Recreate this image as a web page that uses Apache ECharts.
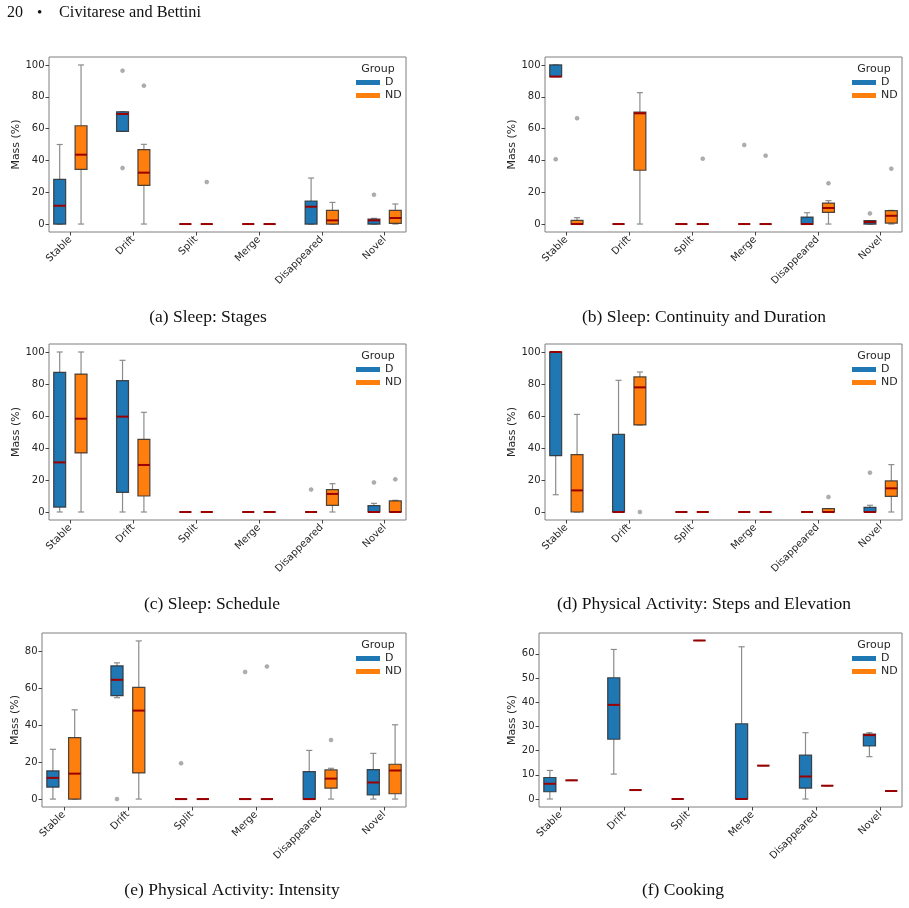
<!DOCTYPE html>
<html>
<head>
<meta charset="utf-8">
<script src="https://cdn.jsdelivr.net/npm/echarts@6/dist/echarts.min.js"></script>
<style>
html,body{margin:0;padding:0;background:#fff;}
#chart{width:909px;height:908px;}
</style>
</head>
<body>
<div id="chart"></div>
<script>
// ---------------- data ----------------
const categories = ['Stable', 'Drift', 'Split', 'Merge', 'Disappeared', 'Novel'];
const groups = ['D', 'ND'];

// each box: [lower whisker, Q1, median, Q3, upper whisker]
const stagesD = [[0,0,11.5,28.1,50],[58.3,58.3,69.2,70.6,70.6],[0,0,0,0,0],[0,0,0,0,0],[0,0,10.9,14.5,28.9],[0,0,2.3,3.1,3.6]];
const stagesND = [[0,34.4,43.6,61.8,100],[0,24.3,32.3,46.8,50.1],[0,0,0,0,0],[0,0,0,0,0],[0,0,2.3,8.6,13.6],[0,0.4,3.8,8.6,12.6]];
const stagesDOut = [[1,96.4],[1,35.2],[5,18.4]];
const stagesNDOut = [[1,87],[2,26.4]];

const continuityD = [[92.7,92.7,92.7,100,100],[0,0,0,0,0],[0,0,0,0,0],[0,0,0,0,0],[0,0,0,4.4,7.1],[0,0,1.3,2.1,2.1]];
const continuityND = [[0,0,0,2.3,4.0],[0,33.8,69.6,70.4,82.6],[0,0,0,0,0],[0,0,0,0,0],[0,7.3,10.1,13.2,14.7],[0,0.6,5.2,8.4,8.6]];
const continuityDOut = [[0,40.7],[3,49.7],[5,6.7]];
const continuityNDOut = [[0,66.5],[2,41.1],[3,43],[4,25.6],[5,34.8]];

const scheduleD = [[0,3.1,31,87.3,100],[0,12.3,59.6,82.1,94.8],[0,0,0,0,0],[0,0,0,0,0],[0,0,0,0,0],[0,0,0,4,5.4]];
const scheduleND = [[0,36.9,58.3,86.2,100],[0,10,29.4,45.4,62.3],[0,0,0,0,0],[0,0,0,0,0],[0,4.2,11.3,14,17.7],[0,0,0,6.9,7.3]];
const scheduleDOut = [[4,14],[5,18.5]];
const scheduleNDOut = [[5,20.4]];

const stepsD = [[10.8,35.2,100,100,100],[0,0,0,48.5,82.3],[0,0,0,0,0],[0,0,0,0,0],[0,0,0,0,0],[0,0,0,2.9,4.2]];
const stepsND = [[0,0,13.5,35.8,61],[54.4,54.4,77.9,84.4,87.5],[0,0,0,0,0],[0,0,0,0,0],[0,0,0,2.1,2.1],[0,9.8,14.8,19.4,29.6]];
const stepsDOut = [[5,24.6]];
const stepsNDOut = [[1,0],[4,9.4]];

const intensityD = [[0,6.5,11.5,15.3,27],[55,56.1,64.7,72.3,73.9],[0,0,0,0,0],[0,0,0,0,0],[0,0,0,14.9,26.4],[0,2.2,9,16,24.8]];
const intensityND = [[0,0,13.8,33.3,48.4],[0,14.2,48,60.6,85.8],[0,0,0,0,0],[0,0,0,0,0],[0,5.9,11.1,15.8,16.7],[0,2.9,15.5,18.9,40.3]];
const intensityDOut = [[1,0],[2,19.4],[3,69]];
const intensityNDOut = [[3,71.9],[4,32]];

const cookingD = [[0,3,6.3,8.9,11.8],[10.3,24.7,38.9,50.1,61.8],[0,0,0,0,0],[0,0,0,31.1,62.9],[0,4.5,9.3,18.1,27.4],[17.5,21.9,26.4,26.8,27.4]];
const cookingND = [[7.7,7.7,7.7,7.7,7.7],[3.7,3.7,3.7,3.7,3.7],[65.5,65.5,65.5,65.5,65.5],[13.8,13.8,13.8,13.8,13.8],[5.5,5.5,5.5,5.5,5.5],[3.3,3.3,3.3,3.3,3.3]];
const cookingDOut = [];
const cookingNDOut = [];

const yTicks100 = [0, 20, 40, 60, 80, 100];
const yTicksIntensity = [0, 20, 40, 60, 80];
const yTicksCooking = [0, 10, 20, 30, 40, 50, 60];

const captions = ['(a) Sleep: Stages', '(b) Sleep: Continuity and Duration', '(c) Sleep: Schedule',
  '(d) Physical Activity: Steps and Elevation', '(e) Physical Activity: Intensity', '(f) Cooking'];

// ---------------- layout / style ----------------
const panels = [
  {d: stagesD, nd: stagesND, dOut: stagesDOut, ndOut: stagesNDOut, ymin: -5, ymax: 105, ticks: yTicks100,
   left: 49, right: 406, top: 57, bottom: 232, capX: 208, capY: 317, nameX: 17},
  {d: continuityD, nd: continuityND, dOut: continuityDOut, ndOut: continuityNDOut, ymin: -5, ymax: 105, ticks: yTicks100,
   left: 545, right: 902, top: 57, bottom: 232, capX: 704, capY: 317, nameX: 513},
  {d: scheduleD, nd: scheduleND, dOut: scheduleDOut, ndOut: scheduleNDOut, ymin: -5, ymax: 105, ticks: yTicks100,
   left: 49, right: 406, top: 344, bottom: 520, capX: 212, capY: 604, nameX: 17},
  {d: stepsD, nd: stepsND, dOut: stepsDOut, ndOut: stepsNDOut, ymin: -5, ymax: 105, ticks: yTicks100,
   left: 545, right: 902, top: 344, bottom: 520, capX: 704, capY: 604, nameX: 513},
  {d: intensityD, nd: intensityND, dOut: intensityDOut, ndOut: intensityNDOut, ymin: -4.3, ymax: 90.1, ticks: yTicksIntensity,
   left: 42, right: 406, top: 633, bottom: 807, capX: 232, capY: 890, nameX: 17},
  {d: cookingD, nd: cookingND, dOut: cookingDOut, ndOut: cookingNDOut, ymin: -3.3, ymax: 68.6, ticks: yTicksCooking,
   left: 539, right: 902, top: 633, bottom: 807, capX: 683, capY: 890, nameX: 513}
];

const W = 909, H = 908;
const colors = {D: '#1f77b4', ND: '#ff7f0e'};
const OFFSET = 0.17, HALF_W = 0.095, CAP_HALF = 0.048;
const whiskerColor = '#8c8c8c';
const edgeColor = 'rgba(45,45,45,0.85)';
const medianColor = '#9b0000';
const tickFont = 'DejaVu Sans';
const textColor = '#262626';
const serif = 'Liberation Serif';

function makeRender(offset) {
  return function (params, api) {
    const c = api.value(0) + offset;
    const mn = api.value(1), q1 = api.value(2), md = api.value(3), q3 = api.value(4), mx = api.value(5);
    const xc = api.coord([c, 0])[0];
    const xl = api.coord([c - HALF_W, 0])[0];
    const xr = api.coord([c + HALF_W, 0])[0];
    const cl = api.coord([c - CAP_HALF, 0])[0];
    const cr = api.coord([c + CAP_HALF, 0])[0];
    const y = v => api.coord([c, v])[1];
    const wStyle = {stroke: whiskerColor, lineWidth: 1.2};
    const children = [
      {type: 'line', shape: {x1: xc, y1: y(q3), x2: xc, y2: y(mx)}, style: wStyle},
      {type: 'line', shape: {x1: xc, y1: y(q1), x2: xc, y2: y(mn)}, style: wStyle},
      {type: 'line', shape: {x1: cl, y1: y(mx), x2: cr, y2: y(mx)}, style: wStyle},
      {type: 'line', shape: {x1: cl, y1: y(mn), x2: cr, y2: y(mn)}, style: wStyle},
      {type: 'rect', shape: {x: xl, y: y(q3), width: xr - xl, height: y(q1) - y(q3)},
       style: {fill: api.visual('color'), stroke: edgeColor, lineWidth: 1.2}},
      {type: 'line', shape: {x1: xl, y1: y(md), x2: xr, y2: y(md)}, style: {stroke: medianColor, lineWidth: 2}}
    ];
    return {type: 'group', children: children};
  };
}

const grid = [], xAxis = [], yAxis = [], series = [], legend = [], graphic = [];

panels.forEach((p, i) => {
  grid.push({left: p.left, top: p.top, width: p.right - p.left, height: p.bottom - p.top,
    show: true, borderColor: '#7f7f7f', borderWidth: 1, backgroundColor: 'transparent', containLabel: false});
  xAxis.push({type: 'value', gridIndex: i, min: -0.34, max: 5.34, position: 'bottom',
    splitLine: {show: false}, axisLine: {show: false, onZero: false},
    axisTick: {show: true, length: 3.5, lineStyle: {color: '#444'}, customValues: [0,1,2,3,4,5]},
    axisLabel: {customValues: [0,1,2,3,4,5], rotate: 45, margin: 6, fontSize: 10, color: textColor,
      fontFamily: tickFont, formatter: v => categories[Math.round(v)]}});
  yAxis.push({type: 'value', gridIndex: i, min: p.ymin, max: p.ymax, position: 'left',
    name: 'Mass (%)', nameLocation: 'middle', nameGap: p.left - p.nameX - 6.5, nameRotate: 90,
    nameTextStyle: {fontSize: 11, color: textColor, fontFamily: tickFont},
    splitLine: {show: false}, axisLine: {show: false, onZero: false},
    axisTick: {show: true, length: 3.5, lineStyle: {color: '#444'}, customValues: p.ticks},
    axisLabel: {customValues: p.ticks, margin: 4.5, fontSize: 10, color: textColor, fontFamily: tickFont}});

  const groupsData = [p.d, p.nd];
  const outData = [p.dOut, p.ndOut];
  groups.forEach((g, gi) => {
    const off = gi === 0 ? -OFFSET : OFFSET;
    series.push({
      type: 'custom', name: g, xAxisIndex: i, yAxisIndex: i,
      itemStyle: {color: colors[g]}, color: colors[g],
      renderItem: makeRender(off),
      encode: {x: 0, y: [1, 2, 3, 4, 5]},
      data: groupsData[gi].map((b, k) => [k].concat(b)),
      silent: true, animation: false, z: 2
    });
    series.push({
      type: 'scatter', name: g + ' outliers', xAxisIndex: i, yAxisIndex: i,
      symbol: 'circle', symbolSize: 4,
      itemStyle: {color: '#9a9a9a', borderColor: '#8a8a8a', borderWidth: 0.5},
      data: outData[gi].map(o => [o[0] + off, o[1]]),
      silent: true, animation: false, z: 3
    });
  });

  legend.push({
    data: groups, orient: 'vertical', left: p.right - 50, top: p.top + 19,
    itemWidth: 24, itemHeight: 5, itemGap: 0, icon: 'rect', selectedMode: false,
    padding: 0, itemStyle: {borderWidth: 0},
    textStyle: {fontSize: 11, lineHeight: 13, color: textColor, fontFamily: tickFont, padding: [0, 0, 0, 0]}
  });
  graphic.push({type: 'text', x: p.right - 28, y: p.top + 12,
    style: {text: 'Group', fontSize: 11, fill: textColor, fontFamily: tickFont,
      textAlign: 'center', textVerticalAlign: 'middle'}});
  graphic.push({type: 'text', x: p.capX, y: p.capY,
    style: {text: captions[i], fontSize: 17.5, fill: '#111', fontFamily: serif,
      textAlign: 'center', textVerticalAlign: 'middle'}});
});

graphic.push({type: 'text', x: 7, y: 13, style: {text: '20', fontSize: 16, fill: '#111',
  fontFamily: serif, textVerticalAlign: 'middle'}});
graphic.push({type: 'text', x: 37, y: 13, style: {text: '•', fontSize: 15, fill: '#111',
  fontFamily: serif, textVerticalAlign: 'middle'}});
graphic.push({type: 'text', x: 59, y: 13, style: {text: 'Civitarese and Bettini', fontSize: 16.3, fill: '#111',
  fontFamily: serif, textVerticalAlign: 'middle'}});

const chart = echarts.init(document.getElementById('chart'), null, {renderer: 'canvas', width: W, height: H});
chart.setOption({
  backgroundColor: '#ffffff',
  animation: false,
  grid, xAxis, yAxis, series, legend, graphic
});
</script>
</body>
</html>
